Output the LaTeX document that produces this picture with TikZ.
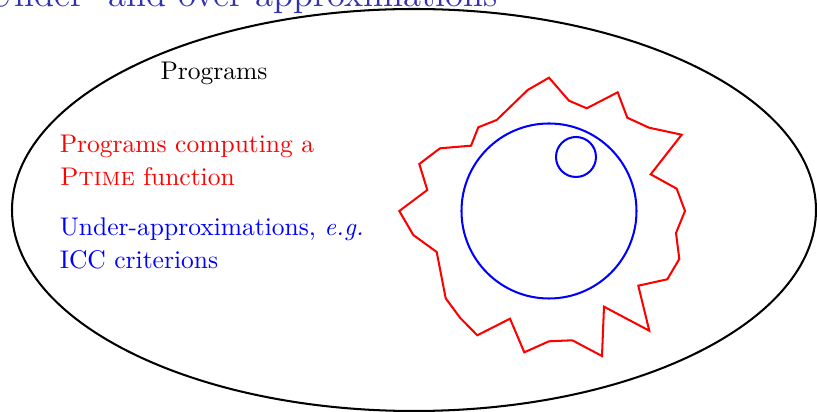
\documentclass[tikz,border=0pt]{standalone}
\usepackage{xcolor}
\usepackage{tikz}
\definecolor{cTitle}{RGB}{51,51,178}

\begin{document}
\begin{tikzpicture}[x=0.392pt,y=0.392pt,font=\fontsize{10}{13}\selectfont,
  lbl/.style={anchor=base west,inner sep=0pt,align=left}]
\clip (0,0) rectangle (817,412);
\node[anchor=base east,inner sep=0pt,text=cTitle,font=\Large] (title) at (498,405) {Under- and over-approximations};
\draw[thick] (414,202) ellipse [x radius=402,y radius=201];
\node[lbl] (progs) at (160,332) {Programs};
\node[lbl,text=red] (ptime) at (59.3,226.5) {Programs computing a\\{\scshape Ptime} function};
\node[lbl,text=blue] (icc) at (59.3,143) {Under-approximations, \emph{e.g.}\\ICC criterions};
% the Ptime set
\draw[thick,red] (399.3,201)--(427.3,222)--(419.3,248)--(440,263.7)--(471,266.3)--(478.3,284.7)
  --(496.7,292)--(527.7,322)--(549,334.3)--(569,311.3)--(586.7,303.7)--(617.7,319.7)
  --(627.3,294.3)--(649,284.3)--(681.7,277.3)--(650.7,237.7)--(676.7,223.3)--(685,201)
  --(676,179)--(679.3,153)--(667.3,132.7)--(638.3,126.3)--(649.3,81.3)--(604,105.3)
  --(602,56)--(572.3,71.7)--(549,70.7)--(524.3,59.7)--(510,93.3)--(477.3,76.7)
  --(460,94.3)--(445.7,113.7)--(436.7,160)--(413.3,177)--cycle;
% under-approximations
\draw[thick,blue] (549,201) circle [radius=87.5];
\draw[thick,blue] (576,255) circle [radius=20];
\end{tikzpicture}
\end{document}
